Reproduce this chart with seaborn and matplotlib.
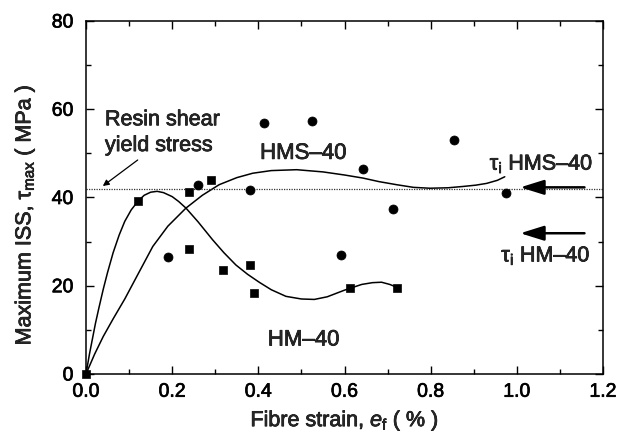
import matplotlib
matplotlib.use("Agg")
import matplotlib.pyplot as plt
import matplotlib.patheffects as pe
import seaborn as sns
import pandas as pd
from matplotlib.ticker import MultipleLocator

# ---- data ----
hms_x = [0.190, 0.261, 0.381, 0.413, 0.524, 0.592, 0.643, 0.713, 0.854, 0.974]
hms_y = [26.6, 42.8, 41.8, 56.8, 57.4, 26.9, 46.5, 37.3, 53.1, 41.0]

hm_x = [0.0, 0.121, 0.240, 0.240, 0.291, 0.319, 0.381, 0.391, 0.613, 0.723]
hm_y = [0.0, 39.1, 41.3, 28.3, 43.9, 23.6, 24.6, 18.4, 19.6, 19.6]

# fitted curves
hm_fit_x = [0.0, 0.008, 0.015, 0.022, 0.03, 0.04, 0.05, 0.063, 0.077, 0.09, 0.105,
            0.121, 0.135, 0.15, 0.165, 0.18, 0.20, 0.215, 0.232, 0.26, 0.294,
            0.32, 0.348, 0.375, 0.402, 0.43, 0.464, 0.50, 0.53, 0.56, 0.60,
            0.64, 0.665, 0.686, 0.705, 0.723]
hm_fit_y = [0.0, 4.5, 8.0, 11.5, 15.0, 19.2, 23.0, 27.5, 31.5, 34.6, 37.2,
            39.2, 40.5, 41.2, 41.4, 41.1, 40.2, 39.1, 37.6, 34.5, 30.4,
            27.5, 24.7, 22.6, 20.8, 19.1, 17.6, 17.0, 16.9, 17.5, 19.0,
            20.3, 20.7, 20.8, 20.3, 19.6]

hms_fit_x = [0.0, 0.02, 0.04, 0.063, 0.09, 0.12, 0.155, 0.19, 0.232, 0.27, 0.309,
             0.35, 0.387, 0.43, 0.489, 0.55, 0.60, 0.643, 0.68, 0.721, 0.76, 0.798,
             0.84, 0.875, 0.905, 0.93, 0.955, 0.972]
hms_fit_y = [0.0, 4.5, 8.5, 12.5, 17.0, 22.5, 28.9, 33.5, 37.6, 40.5, 42.9,
             44.5, 45.5, 46.1, 46.3, 45.8, 45.1, 44.4, 43.6, 42.9, 42.3, 42.1,
             42.2, 42.5, 42.8, 43.2, 43.9, 44.7]

resin_yield = 42.0
tau_i_hms = 42.3
tau_i_hm = 31.9

x_ticks = [0.0, 0.2, 0.4, 0.6, 0.8, 1.0, 1.2]
y_ticks = [0, 20, 40, 60, 80]

# ---- style ----
sns.set_style("ticks")
plt.rcParams["font.family"] = ["Liberation Sans", "DejaVu Sans"]
plt.rcParams["mathtext.fontset"] = "custom"
plt.rcParams["mathtext.rm"] = "Liberation Sans"
plt.rcParams["mathtext.it"] = "Liberation Sans:italic"
plt.rcParams["mathtext.bf"] = "Liberation Sans:bold"

FS_TICK = 14
FS_LAB = 15.5
FS_ANN = 15.5
fig = plt.figure(figsize=(6.3, 4.36), dpi=100)
ax = fig.add_axes([86 / 630, 1 - 374 / 436, 517 / 630, 353 / 436])

df_hms = pd.DataFrame({"x": hms_x, "y": hms_y})
df_hm = pd.DataFrame({"x": hm_x, "y": hm_y})
df_hmf = pd.DataFrame({"x": hm_fit_x, "y": hm_fit_y})
df_hmsf = pd.DataFrame({"x": hms_fit_x, "y": hms_fit_y})

sns.lineplot(data=df_hmf, x="x", y="y", sort=False, estimator=None, ax=ax,
             color="black", lw=1.1)
sns.lineplot(data=df_hmsf, x="x", y="y", sort=False, estimator=None, ax=ax,
             color="black", lw=1.1)
sns.scatterplot(data=df_hms, x="x", y="y", marker="o", s=42, color="black",
                edgecolor="black", ax=ax, zorder=5, clip_on=False)
sns.scatterplot(data=df_hm, x="x", y="y", marker="s", s=36, color="black",
                edgecolor="black", ax=ax, zorder=5, clip_on=False)

ax.axhline(resin_yield, color="#333333", lw=0.9, ls=(0, (1, 1)))

ax.set_xlim(0, 1.2)
ax.set_ylim(0, 80)
ax.set_xticks(x_ticks)
ax.set_yticks(y_ticks)
ax.set_xticklabels([f"{v:.1f}" for v in x_ticks])
ax.set_yticklabels([str(v) for v in y_ticks])
ax.xaxis.set_minor_locator(MultipleLocator(0.1))
ax.yaxis.set_minor_locator(MultipleLocator(10))
ax.tick_params(which="both", direction="in", top=True, right=True,
               colors="black", width=1.0)
ax.tick_params(which="major", length=5.5, labelsize=FS_TICK)
ax.tick_params(which="minor", length=3.5)
ax.tick_params(axis="x", which="major", pad=7)
ax.tick_params(axis="y", which="major", pad=9)
for sp in ax.spines.values():
    sp.set_visible(True)
    sp.set_linewidth(1.1)
    sp.set_color("black")

ax.set_xlabel("Fibre strain, $e_\\mathrm{f}$ ( % )", fontsize=FS_LAB)
ax.set_ylabel("Maximum ISS, \u03c4$_\\mathrm{max}$ ( MPa )", fontsize=FS_LAB)
ax.xaxis.set_label_coords(0.5, -0.097)
ax.yaxis.set_label_coords(-0.094, 0.45)

# annotations
ax.text(0.044, 60.0, "Resin shear\nyield stress", fontsize=FS_ANN, ha="left",
        va="top", linespacing=1.3)
ax.annotate("", xy=(0.039, 42.6), xytext=(0.12, 48.5),
            arrowprops=dict(arrowstyle="-|>", lw=0.9, color="black",
                            mutation_scale=9, shrinkA=0, shrinkB=0))
ax.text(0.404, 50.0, "HMS\u201340", fontsize=16, ha="left", va="center")
ax.text(0.422, 7.7, "HM\u201340", fontsize=16, ha="left", va="center")
ax.text(0.937, 47.6, "\u03c4$_\\mathrm{i}$ HMS\u201340",
        fontsize=FS_ANN, ha="left", va="center")
ax.text(0.964, 26.8, "\u03c4$_\\mathrm{i}$ HM\u201340",
        fontsize=FS_ANN, ha="left", va="center")
for yv in (tau_i_hms, tau_i_hm):
    ax.annotate("", xy=(1.008, yv), xytext=(1.157, yv),
                arrowprops=dict(arrowstyle="-|>,head_length=0.8,head_width=0.25",
                                lw=1.8, color="black", mutation_scale=18,
                                shrinkA=0, shrinkB=0))

# heavier scanned-print look for all text
effect = [pe.withStroke(linewidth=0.5, foreground="black")]
texts = list(ax.texts) + ax.get_xticklabels() + ax.get_yticklabels() + \
    [ax.xaxis.label, ax.yaxis.label]
for t in texts:
    t.set_path_effects(effect)

fig.savefig("out.png", dpi=100)
